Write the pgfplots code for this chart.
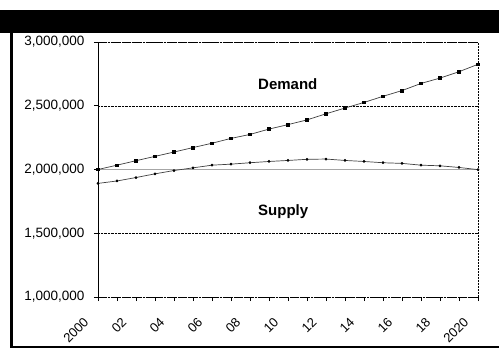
\documentclass[border=0pt]{standalone}
\usepackage{fontspec}
\setmainfont{Liberation Sans}
\usepackage{pgfplots}
\pgfplotsset{compat=1.18}
\pgfplotstableread{
year demand
2000 2000000
2001 2034000
2002 2069000
2003 2103000
2004 2137000
2005 2172000
2006 2206000
2007 2244000
2008 2275000
2009 2317000
2010 2352000
2011 2389000
2012 2437000
2013 2482000
2014 2526000
2015 2574000
2016 2619000
2017 2675000
2018 2717000
2019 2767000
2020 2825000
}\demandtab
\pgfplotstableread{
year supply
2000 1891000
2001 1910000
2002 1937000
2003 1966000
2004 1992000
2005 2013000
2006 2034000
2007 2042000
2008 2053000
2009 2063000
2010 2071000
2011 2080000
2012 2082000
2013 2071000
2014 2063000
2015 2053000
2016 2048000
2017 2034000
2018 2029000
2019 2016000
2020 1999000
}\supplytab
\begin{document}
\begin{tikzpicture}[x=1pt,y=1pt]
\fill[white] (0,0) rectangle (499,349);
\begin{axis}[
  at={(98pt,52pt)}, anchor=south west,
  scale only axis, width=380pt, height=255pt,
  xmin=2000, xmax=2020, ymin=1000000, ymax=3000000,
  scaled y ticks=false, scaled x ticks=false,
  xtick={2000,2002,...,2020},
  xticklabels={2000,02,04,06,08,10,12,14,16,18,2020},
  minor xtick={2001,2003,...,2019},
  ytick={1000000,1500000,2000000,2500000,3000000},
  yticklabels={{1,000,000},{1,500,000},{2,000,000},{2,500,000},{3,000,000}},
  axis line style={draw=none},
  tick align=outside, xtick pos=bottom, ytick pos=left,
  major tick length=4pt, minor tick length=4pt,
  tick style={black, line width=0.6pt},
  ymajorgrids, major grid style={black, densely dotted, line width=0.5pt},
  yticklabel style={font=\fontsize{13.5}{13.5}\selectfont, xshift=-6pt},
  xticklabel style={font=\fontsize{13}{13}\selectfont, rotate=45, anchor=east, xshift=-18.5pt, yshift=-5.3pt},
  clip=false,
]
\draw[gray!70, line width=1.4pt] (axis cs:2000,2000000) -- (axis cs:2020,2000000);
\addplot[black!75, line width=0.7pt, mark=square*, mark size=1.3pt, mark options={black}] table[x=year,y=demand] {\demandtab};
\addplot[black!75, line width=0.7pt, mark=*, mark size=1.0pt, mark options={black}] table[x=year,y=supply] {\supplytab};
\draw[black, line width=0.7pt] (rel axis cs:0,0) -- (rel axis cs:0,1);
\draw[black, densely dotted, line width=0.6pt] (rel axis cs:0,0) -- (rel axis cs:1,0);
\draw[black, densely dotted, line width=0.6pt] (rel axis cs:0,1) -- (rel axis cs:1,1);
\draw[black, dash pattern=on 2pt off 1pt, line width=0.8pt] (rel axis cs:1,0) -- (rel axis cs:1,1);
\end{axis}
\node[anchor=base west, font=\fontsize{15}{15}\selectfont\bfseries, inner sep=0pt] at (258,259) {Demand};
\node[anchor=base west, font=\fontsize{15}{15}\selectfont\bfseries, inner sep=0pt] at (258,134) {Supply};
\fill[black] (0,316) rectangle (499,339);
\fill[black] (10,1) rectangle (12.5,316);
\fill[black] (10,1) rectangle (499,3.5);
\pgfresetboundingbox
\useasboundingbox (0,0) rectangle (499,349);
\end{tikzpicture}
\end{document}
